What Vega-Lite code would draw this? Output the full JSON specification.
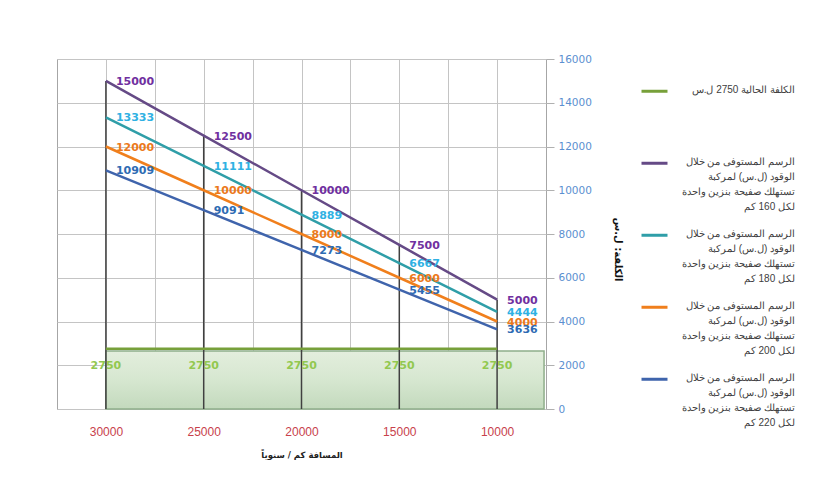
{
  "$schema": "https://vega.github.io/schema/vega-lite/v6.json",
  "autosize": {"type": "none"},
  "padding": {"left": 57, "top": 59, "right": 286, "bottom": 74},
  "width": 489,
  "height": 350,
  "background": "white",
  "config": {
    "view": {"stroke": "#a6a6a6", "strokeWidth": 1},
    "axis": {"gridColor": "#c4c4c4", "gridWidth": 1},
    "style": {"guide-label": {"lineHeight": 15}}
  },
  "datasets": {
    "main": [
      {"x": 30000, "y": 2750, "series": "current"},
      {"x": 25000, "y": 2750, "series": "current"},
      {"x": 20000, "y": 2750, "series": "current"},
      {"x": 15000, "y": 2750, "series": "current"},
      {"x": 10000, "y": 2750, "series": "current"},
      {"x": 30000, "y": 15000, "series": "160"},
      {"x": 25000, "y": 12500, "series": "160"},
      {"x": 20000, "y": 10000, "series": "160"},
      {"x": 15000, "y": 7500, "series": "160"},
      {"x": 10000, "y": 5000, "series": "160"},
      {"x": 30000, "y": 13333, "series": "180"},
      {"x": 25000, "y": 11111, "series": "180"},
      {"x": 20000, "y": 8889, "series": "180"},
      {"x": 15000, "y": 6667, "series": "180"},
      {"x": 10000, "y": 4444, "series": "180"},
      {"x": 30000, "y": 12000, "series": "200"},
      {"x": 25000, "y": 10000, "series": "200"},
      {"x": 20000, "y": 8000, "series": "200"},
      {"x": 15000, "y": 6000, "series": "200"},
      {"x": 10000, "y": 4000, "series": "200"},
      {"x": 30000, "y": 10909, "series": "220"},
      {"x": 25000, "y": 9091, "series": "220"},
      {"x": 20000, "y": 7273, "series": "220"},
      {"x": 15000, "y": 5455, "series": "220"},
      {"x": 10000, "y": 3636, "series": "220"}
    ]
  },
  "encoding": {
    "x": {
      "type": "quantitative",
      "scale": {"domain": [7500, 32500], "reverse": true, "nice": false, "zero": false},
      "axis": {
        "values": [10000, 12500, 15000, 17500, 20000, 22500, 25000, 27500, 30000],
        "labelExpr": "datum.value % 5000 == 0 ? format(datum.value, 'd') : ''",
        "grid": true,
        "ticks": false,
        "domain": false,
        "labelPadding": 17,
        "labelFont": "Liberation Sans",
        "labelFontSize": 12,
        "labelColor": "#c8414b",
        "title": "المسافة كم / سنوياً",
        "titleFont": "DejaVu Sans",
        "titleFontSize": 8.5,
        "titleFontWeight": "bold",
        "titleColor": "#222222",
        "titlePadding": 13
      }
    },
    "y": {
      "type": "quantitative",
      "scale": {"domain": [0, 16000], "nice": false},
      "axis": {
        "orient": "right",
        "values": [0, 2000, 4000, 6000, 8000, 10000, 12000, 14000, 16000],
        "format": "d",
        "grid": true,
        "domain": false,
        "tickSize": 8,
        "tickColor": "#b0b0b0",
        "labelPadding": 4,
        "labelFont": "DejaVu Sans",
        "labelFontSize": 10.5,
        "labelColor": "#5b8fd0",
        "title": "الكلفة: ل.س",
        "titleFont": "DejaVu Sans",
        "titleFontSize": 10,
        "titleFontWeight": "bold",
        "titleColor": "#111111",
        "titleAngle": 90,
        "titleX": 66,
        "titleY": 190
      }
    }
  },
  "layer": [
    {
      "data": {"values": [{}]},
      "mark": {
        "type": "rect",
        "stroke": "#8fae8a",
        "strokeWidth": 1.5,
        "fill": {
          "gradient": "linear", "x1": 0, "y1": 0, "x2": 0, "y2": 1,
          "stops": [
            {"offset": 0, "color": "#e3eedd"},
            {"offset": 0.5, "color": "#d6e7d0"},
            {"offset": 1, "color": "#c3d9bd"}
          ]
        }
      },
      "encoding": {
        "x": {"datum": 30000, "type": "quantitative"},
        "x2": {"datum": 7600},
        "y": {"datum": 0, "type": "quantitative"},
        "y2": {"datum": 2650}
      }
    },
    {
      "data": {"name": "main"},
      "transform": [
        {"filter": "datum.series != 'current'"},
        {"aggregate": [{"op": "max", "field": "y", "as": "ymax"}], "groupby": ["x"]}
      ],
      "mark": {"type": "rule", "color": "#404040", "strokeWidth": 1.5},
      "encoding": {
        "x": {"field": "x", "type": "quantitative"},
        "y": {"field": "ymax", "type": "quantitative"},
        "y2": {"datum": 0}
      }
    },
    {
      "data": {"name": "main"},
      "mark": {"type": "line", "strokeWidth": 2.5},
      "encoding": {
        "x": {"field": "x", "type": "quantitative"},
        "y": {"field": "y", "type": "quantitative"},
        "color": {
          "field": "series",
          "type": "nominal",
          "scale": {
            "domain": ["current", "160", "180", "200", "220"],
            "range": ["#77a03a", "#654a86", "#2f9ea8", "#f07f1c", "#3f64ac"]
          },
          "legend": {
            "orient": "none",
            "legendX": 583,
            "legendY": 11,
            "title": null,
            "padding": 0,
            "symbolType": "M-1,0.52L1,0.52",
            "symbolSize": 676,
            "symbolStrokeWidth": 3,
            "symbolFillColor": "transparent",
            "labelAlign": "right",
            "labelBaseline": "top",
            "labelOffset": 126,
            "labelLimit": 0,
            "labelFont": "Liberation Sans",
            "labelFontSize": 10,
            "labelColor": "#404040",
            "rowPadding": 2,
            "labelExpr": "datum.value == 'current' ? ['الكلفة الحالية 2750 ل.س', '', '', ''] : ['الرسم المستوفى من خلال', 'الوقود (ل.س) لمركبة', 'تستهلك صفيحة بنزين واحدة', 'لكل ' + datum.value + ' كم']"
          }
        }
      }
    },
    {
      "data": {"name": "main"},
      "transform": [{"filter": "datum.series != 'current'"}],
      "mark": {"type": "text", "align": "left", "baseline": "middle", "dx": 10, "dy": 1, "font": "DejaVu Sans", "fontSize": 11, "fontWeight": "bold"},
      "encoding": {
        "x": {"field": "x", "type": "quantitative"},
        "y": {"field": "y", "type": "quantitative"},
        "text": {"field": "y", "type": "quantitative", "format": "d"},
        "fill": {
          "field": "series",
          "type": "nominal",
          "scale": {
            "domain": ["160", "180", "200", "220"],
            "range": ["#7030a0", "#2fb1e3", "#ec7a1c", "#2e6bb3"]
          },
          "legend": null
        }
      }
    },
    {
      "data": {"name": "main"},
      "transform": [{"filter": "datum.series == 'current'"}],
      "mark": {"type": "text", "align": "center", "baseline": "middle", "dy": 17, "font": "DejaVu Sans", "fontSize": 11, "fontWeight": "bold", "color": "#92c850"},
      "encoding": {
        "x": {"field": "x", "type": "quantitative"},
        "y": {"field": "y", "type": "quantitative"},
        "text": {"field": "y", "type": "quantitative", "format": "d"}
      }
    }
  ]
}
